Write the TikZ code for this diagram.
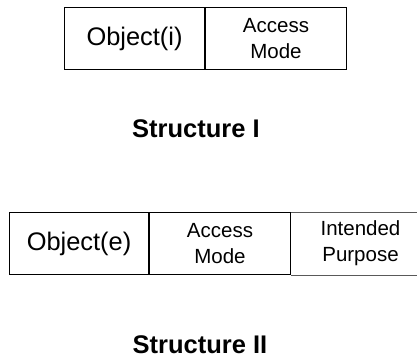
\documentclass[tikz,border=0pt]{standalone}
\usepackage{fontspec}
\setmainfont{Liberation Sans}
\begin{document}
\begin{tikzpicture}[x=1pt,y=-1pt,
  cell/.style={draw=black, line width=1pt, minimum height=62pt, inner sep=0pt,
               anchor=north west, align=center},
  rule/.style={draw=black, line width=1pt},
  bigtext/.style={font=\fontsize{25.4}{30}\selectfont},
  smalltext/.style={font=\fontsize{20.5}{26}\selectfont},
  caption/.style={font=\fontsize{25.5}{30}\selectfont\bfseries, inner sep=0pt, anchor=base}]
\useasboundingbox (0,0) rectangle (417,358);

% Structure I: two fields
\node[cell, bigtext, minimum width=140pt] (obji) at (64,7) {Object(i)};
\node[cell, smalltext, minimum width=141pt] (modei) at (obji.north east) {Access\\Mode};
\node[caption] (capi) at (196,138) {Structure I};

% Structure II: three fields, the last one open and running past the right edge
\node[cell, bigtext, minimum width=139pt] (obje) at (9,212) {Object(e)};
\node[cell, smalltext, minimum width=141pt] (modee) at (obje.north east) {Access\\Mode};
\node[cell, draw=none, smalltext, minimum width=138pt] (purpose) at (modee.north east) {Intended\\Purpose};
\draw[rule] (purpose.north west) -- (purpose.north east) -- ++(20,0);
\draw[rule] (purpose.south west) -- (purpose.south east) -- ++(20,0);
\node[caption] (capii) at (200,353) {Structure II};
\end{tikzpicture}
\end{document}
